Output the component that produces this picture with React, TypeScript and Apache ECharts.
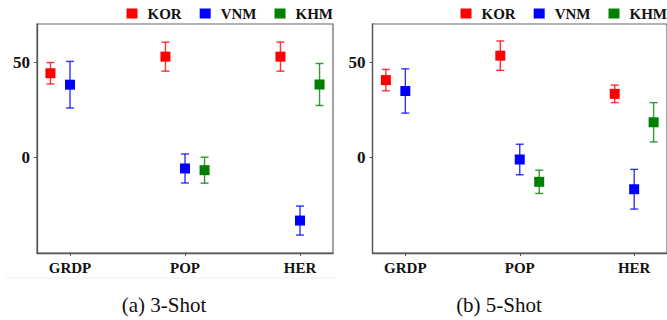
import React, { useEffect, useRef } from "react";
import * as echarts from "echarts";

const categories = ["GRDP", "POP", "HER"];
const countries = ["KOR", "VNM", "KHM"];
const colors = ["#ff0000", "#0000ff", "#008000"];
const offsets = [-0.17, 0, 0.17];
const yTicks = [0, 50];

// 3-shot (a)
const shot3Mean = {
  KOR: [44.2, 52.9, 52.9],
  VNM: [38.2, -5.7, -33.0],
  KHM: [null, -6.6, 38.3],
};
const shot3Err = {
  KOR: [5.6, 7.6, 7.6],
  VNM: [12.2, 7.6, 7.6],
  KHM: [null, 6.8, 11.0],
};
// 5-shot (b)
const shot5Mean = {
  KOR: [40.6, 53.4, 33.4],
  VNM: [34.9, -1.0, -16.6],
  KHM: [null, -12.7, 18.5],
};
const shot5Err = {
  KOR: [5.6, 7.7, 4.6],
  VNM: [11.6, 8.0, 10.4],
  KHM: [null, 6.1, 10.3],
};

const panels = [
  { caption: "(a) 3-Shot", mean: shot3Mean, err: shot3Err },
  { caption: "(b) 5-Shot", mean: shot5Mean, err: shot5Err },
];

const FONT = "Liberation Serif";

export default function App() {
  const ref = useRef<HTMLDivElement>(null);
  useEffect(() => {
    if (!ref.current) return;
    const chart = echarts.init(ref.current, null, { renderer: "svg" });
    const grids = [
      { left: 37, top: 24, width: 296, height: 229 },
      { left: 372.5, top: 24, width: 296, height: 229 },
    ];
    const xAxes: any[] = [];
    const yAxes: any[] = [];
    const series: any[] = [];
    panels.forEach((p, gi) => {
      xAxes.push({
        type: "value",
        gridIndex: gi,
        min: -0.287,
        max: 2.287,
        splitLine: { show: false },
        axisLine: { show: true, onZero: false, lineStyle: { color: "#555", width: 1.3 } },
        axisTick: { show: true, customValues: [0, 1, 2], length: 3, lineStyle: { color: "#555" } },
        axisLabel: {
          customValues: [0, 1, 2],
          formatter: (v: number) => categories[Math.round(v)],
          fontFamily: FONT,
          fontWeight: "bold",
          fontSize: 15,
          color: "#111",
          margin: 7,
        },
      });
      yAxes.push({
        type: "value",
        gridIndex: gi,
        min: -50,
        max: 70,
        splitLine: { show: false },
        axisLine: { show: true, onZero: false, lineStyle: { color: "#555", width: 1.3 } },
        axisTick: { show: true, customValues: yTicks, length: 3, lineStyle: { color: "#555" } },
        axisLabel: {
          customValues: yTicks,
          fontFamily: FONT,
          fontWeight: "bold",
          fontSize: 17,
          color: "#111",
          margin: 7,
        },
      });
      countries.forEach((c, ci) => {
        const means = (p.mean as any)[c] as (number | null)[];
        const errs = (p.err as any)[c] as (number | null)[];
        const pts: number[][] = [];
        means.forEach((m, k) => {
          if (m === null || errs[k] === null) return;
          pts.push([k + offsets[ci], m, errs[k] as number]);
        });
        series.push({
          name: c,
          type: "scatter",
          xAxisIndex: gi,
          yAxisIndex: gi,
          symbol: "rect",
          symbolSize: 10,
          itemStyle: { color: colors[ci], opacity: 1 },
          data: pts.map((d) => [d[0], d[1]]),
          z: 3,
        });
        series.push({
          name: c,
          type: "custom",
          xAxisIndex: gi,
          yAxisIndex: gi,
          itemStyle: { color: colors[ci] },
          encode: { x: 0, y: 1 },
          data: pts,
          z: 2,
          renderItem: (params: any, api: any) => {
            const x = api.value(0);
            const y = api.value(1);
            const e = api.value(2);
            const top = api.coord([x, y + e]);
            const bot = api.coord([x, y - e]);
            const cap = 4;
            const style = { stroke: colors[ci], lineWidth: 1.4, opacity: 0.8 };
            return {
              type: "group",
              children: [
                { type: "line", shape: { x1: top[0], y1: top[1], x2: bot[0], y2: bot[1] }, style },
                { type: "line", shape: { x1: top[0] - cap, y1: top[1], x2: top[0] + cap, y2: top[1] }, style },
                { type: "line", shape: { x1: bot[0] - cap, y1: bot[1], x2: bot[0] + cap, y2: bot[1] }, style },
              ],
            };
          },
        });
      });
    });

    const legendBase = {
      selectedMode: false,
      itemWidth: 11,
      itemHeight: 10,
      itemGap: 18,
      top: 6,
      padding: 0,
      textStyle: { fontFamily: FONT, fontWeight: "bold", fontSize: 15, color: "#111", padding: [0, 0, 0, 5] },
      data: countries.map((c) => ({ name: c, icon: "rect" })),
    };

    chart.setOption({
      animation: false,
      backgroundColor: "#fff",
      grid: grids.map((g) => ({ ...g, show: true, borderColor: "#666", borderWidth: 1.2, backgroundColor: "transparent" })),
      xAxis: xAxes,
      yAxis: yAxes,
      legend: [
        { ...legendBase, right: 334 },
        { ...legendBase, right: 0 },
      ],
      series,
      graphic: [
        {
          type: "line",
          shape: { x1: 6, y1: 278, x2: 336, y2: 278 },
          style: { stroke: "#eeeeee", lineWidth: 1 },
        },
        {
          type: "text",
          x: 164,
          y: 305,
          style: {
            text: panels[0].caption,
            fontFamily: FONT,
            fontSize: 21,
            fill: "#111",
            align: "center",
            verticalAlign: "middle",
          },
        },
        {
          type: "text",
          x: 499,
          y: 305,
          style: {
            text: panels[1].caption,
            fontFamily: FONT,
            fontSize: 21,
            fill: "#111",
            align: "center",
            verticalAlign: "middle",
          },
        },
      ],
    });
    return () => chart.dispose();
  }, []);
  return (
    <div
      ref={ref}
      style={{ position: "fixed", left: 0, top: 0, width: 667, height: 320 }}
    />
  );
}
